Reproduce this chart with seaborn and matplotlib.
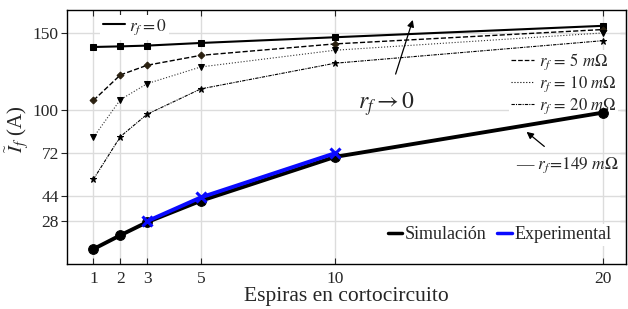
import numpy as np
import pandas as pd
import seaborn as sns
import matplotlib.pyplot as plt
from matplotlib.lines import Line2D

espiras = [1, 2, 3, 5, 10, 20]
rf_0 = [140.7, 141.1, 141.6, 143.3, 147.0, 154.4]
rf_5 = [106.2, 122.6, 128.9, 135.3, 142.7, 152.0]
rf_10 = [82.3, 106.6, 117.0, 127.8, 138.6, 149.8]
rf_20 = [55.2, 82.7, 97.2, 113.6, 130.2, 144.8]
simulacion = [10.0, 18.9, 27.4, 41.2, 69.6, 98.3]

espiras_exp = [3, 5, 10]
experimental = [28.0, 43.4, 72.0]

yticks = [28, 44, 72, 100, 150]
xticks = [1, 2, 3, 5, 10, 20]

sns.set_style('ticks')
plt.rcParams['font.family'] = ['Liberation Serif', 'DejaVu Serif']
plt.rcParams['mathtext.fontset'] = 'stix'

fig = plt.figure(figsize=(6.28, 3.09), dpi=100)
ax = fig.add_axes([0.107, 0.146, 0.89, 0.822])

curvas = pd.DataFrame({'x': espiras, 'rf0': rf_0, 'rf5': rf_5, 'rf10': rf_10,
                       'rf20': rf_20, 'sim': simulacion})
exp = pd.DataFrame({'x': espiras_exp, 'exp': experimental})

sns.lineplot(data=curvas, x='x', y='rf0', ax=ax, color='black', lw=1.5,
             marker='s', ms=5, mec='black', legend=False)
sns.lineplot(data=curvas, x='x', y='rf5', ax=ax, color='black', lw=1.0,
             linestyle='--', marker='D', ms=3.5, mfc='#2a2010', mec='#2a2010', legend=False)
sns.lineplot(data=curvas, x='x', y='rf10', ax=ax, color='#333333', lw=0.8,
             linestyle=':', marker='v', ms=4.5, mfc='black', mec='black', legend=False)
sns.lineplot(data=curvas, x='x', y='rf20', ax=ax, color='black', lw=0.8,
             linestyle=(0, (3, 1, 1, 1)), marker='*', ms=4.5, mfc='black', mec='black', legend=False)
sns.lineplot(data=curvas, x='x', y='sim', ax=ax, color='black', lw=2.8,
             marker='o', ms=7, mec='black', legend=False, zorder=4)
sns.lineplot(data=exp, x='x', y='exp', ax=ax, color='#0a0aff', lw=2.8,
             marker='x', ms=7, mew=2.2, mec='#0a0aff', legend=False, zorder=5)

ax.set_xlim(0.02, 20.85)
ax.set_ylim(0.4, 164.7)
ax.set_xticks(xticks)
ax.set_yticks(yticks)
ax.grid(True, color='#dcdcdc', lw=1.0, zorder=0)
ax.set_axisbelow(True)
ax.tick_params(axis='x', direction='in', top=True, length=4, labelsize=12.5, pad=5)
ax.tick_params(axis='y', direction='out', length=4, labelsize=12.5, pad=2)
for s in ax.spines.values():
    s.set_color('black')
    s.set_linewidth(1.0)
sec = ax.secondary_yaxis('right')
sec.set_yticks(yticks)
sec.tick_params(direction='in', length=4, labelright=False)
ax.set_xlabel('Espiras en cortocircuito', fontsize=15.5, labelpad=0)
ax.set_ylabel(r'$\widetilde{I}_f$ (A)', fontsize=15)
ax.yaxis.set_label_coords(-0.064, 0.53)

# leyenda r_f = 0
l0 = ax.legend(handles=[Line2D([], [], color='black', lw=1.5)],
               labels=[r'$r_f = \mathit{0}$'], loc='upper left', bbox_to_anchor=(0.043, 1.015),
               frameon=True, framealpha=1, edgecolor='none', fontsize=12.5,
               handlelength=1.3, handletextpad=0.2, borderpad=0.15)
l0.set_zorder(1.5)
ax.add_artist(l0)

# leyenda r_f = 5, 10, 20
h = [Line2D([], [], color='black', lw=0.9, linestyle='--'),
     Line2D([], [], color='black', lw=0.8, linestyle=':'),
     Line2D([], [], color='black', lw=0.8, linestyle=(0, (3, 1, 1, 1)))]
lab = [r'$r_f\,=\,\mathit{5\ m}\Omega$', r'$r_f\,=\,\mathit{10\ m}\Omega$',
       r'$r_f\,=\,\mathit{20\ m}\Omega$']
l1 = ax.legend(handles=h, labels=lab, loc='upper right', bbox_to_anchor=(1.0, 0.875),
               frameon=True, framealpha=1, edgecolor='none', fontsize=12,
               handlelength=1.4, handletextpad=0.3, borderpad=0.1, labelspacing=0.15)
l1.set_zorder(1.5)
ax.add_artist(l1)

# leyenda simulacion / experimental
h2 = [Line2D([], [], color='black', lw=2.5), Line2D([], [], color='#0a0aff', lw=2.5)]
l2 = ax.legend(handles=h2, labels=['Simulación', 'Experimental'], loc='lower right',
               bbox_to_anchor=(0.995, 0.035), ncol=2, frameon=True, framealpha=1,
               edgecolor='none', fontsize=13, handlelength=0.8, handletextpad=0.15,
               columnspacing=0.6, borderpad=0.15)
l2.set_zorder(1.5)

ax.annotate(r'$r_f \rightarrow \mathit{0}$', xy=(12.9, 158.2), xytext=(11.9, 103.5),
            fontsize=17, ha='center', va='center',
            arrowprops=dict(arrowstyle='-|>', color='black', lw=0.9,
                            shrinkA=10, shrinkB=0, mutation_scale=10))
ax.annotate(r'— $r_f\!=\!\mathit{149\ m}\Omega$', xy=(17.14, 85.8), xytext=(18.65, 64.5),
            fontsize=12.5, ha='center', va='center',
            arrowprops=dict(arrowstyle='-|>', color='black', lw=0.9,
                            shrinkA=6, shrinkB=0, mutation_scale=10, relpos=(0.38, 1.0)))

plt.savefig('out.png', dpi=100)
